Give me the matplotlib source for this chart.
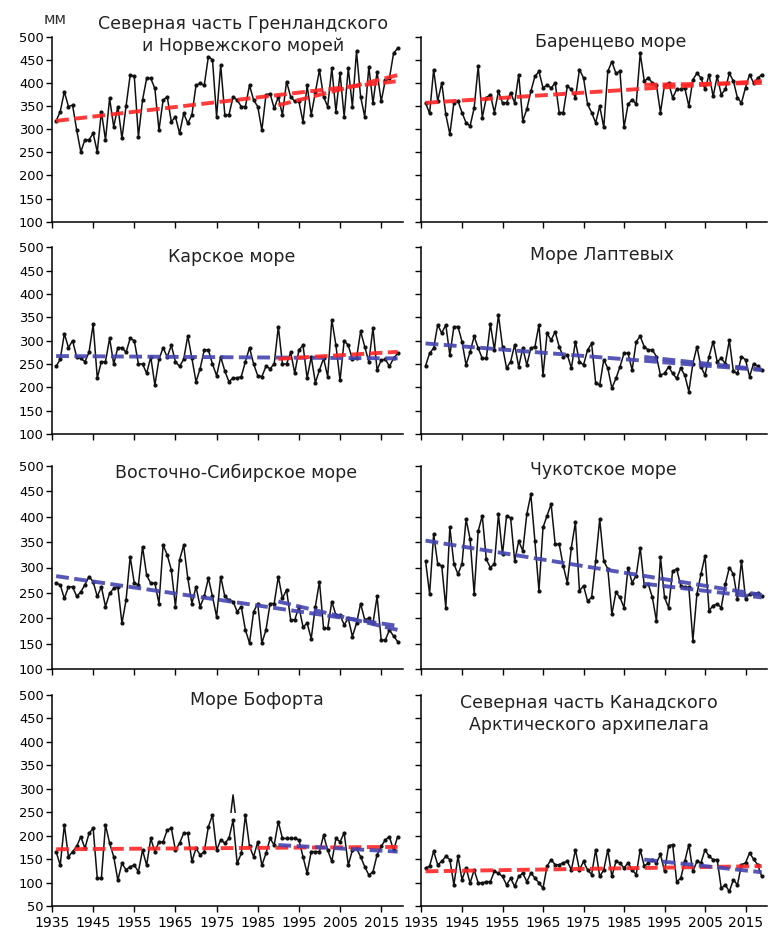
import numpy as np
import matplotlib.pyplot as plt

W, H = 776, 933

YEARS = np.arange(1936, 2020)

GREENLAND = [318, 338, 381, 349, 352, 298, 251, 277, 277, 291,
             251, 338, 277, 367, 305, 349, 280, 350, 417, 414,
             284, 363, 410, 410, 388, 298, 363, 370, 316, 327,
             291, 334, 313, 331, 395, 399, 395, 457, 450, 327,
             439, 331, 331, 370, 363, 349, 349, 395, 363, 349,
             298, 374, 377, 345, 370, 331, 403, 370, 360, 360,
             316, 395, 331, 380, 428, 370, 349, 432, 338, 421,
             327, 432, 349, 468, 370, 327, 435, 356, 424, 360,
             406, 410, 464, 475]
BARENTS = [357, 334, 429, 361, 400, 332, 289, 357, 361, 336,
           314, 307, 346, 436, 325, 368, 375, 336, 382, 357,
           357, 379, 357, 418, 318, 343, 382, 414, 425, 389,
           396, 389, 400, 336, 336, 393, 386, 368, 429, 411,
           354, 336, 314, 350, 304, 425, 446, 421, 425, 304,
           354, 364, 354, 464, 404, 411, 400, 396, 336, 396,
           400, 368, 386, 386, 389, 350, 407, 421, 411, 386,
           418, 371, 414, 375, 386, 421, 404, 368, 357, 390,
           418, 400, 410, 418]
KARA = [245, 260, 315, 285, 300, 265, 262, 255, 275, 335,
        220, 255, 255, 305, 250, 285, 285, 275, 305, 300,
        250, 250, 230, 265, 205, 260, 285, 265, 290, 255,
        245, 260, 310, 262, 212, 240, 280, 280, 250, 225,
        265, 235, 212, 220, 220, 223, 255, 285, 250, 225,
        223, 245, 240, 250, 330, 250, 250, 275, 230, 280,
        290, 220, 265, 210, 237, 262, 223, 345, 290, 215,
        300, 290, 260, 262, 320, 287, 255, 327, 237, 258,
        260, 245, 262, 273]
LAPTEV = [246, 273, 284, 334, 316, 334, 269, 330, 330, 298,
          248, 276, 309, 284, 262, 262, 336, 280, 355, 287,
          241, 255, 291, 244, 284, 248, 284, 287, 334, 226,
          316, 301, 319, 287, 266, 270, 241, 298, 255, 248,
          280, 294, 209, 205, 259, 241, 198, 219, 244, 273,
          273, 237, 298, 309, 287, 280, 280, 266, 226, 230,
          244, 230, 219, 241, 226, 191, 251, 287, 244, 226,
          266, 298, 255, 262, 251, 301, 234, 230, 266, 259,
          223, 251, 245, 237]
EAST_SIBERIAN = [269, 266, 239, 262, 262, 243, 252, 266, 282, 272,
                 243, 262, 223, 249, 259, 262, 190, 236, 321, 269,
                 266, 341, 285, 269, 269, 229, 344, 325, 295, 223,
                 315, 344, 279, 229, 262, 223, 243, 279, 243, 203,
                 282, 243, 236, 233, 213, 223, 177, 151, 213, 229,
                 151, 177, 229, 229, 282, 239, 256, 197, 197, 223,
                 183, 190, 160, 223, 272, 180, 180, 233, 206, 206,
                 187, 200, 164, 190, 229, 197, 200, 190, 243, 157,
                 157, 177, 165, 154]
CHUKCHI = [313, 248, 366, 307, 303, 221, 379, 307, 287, 307,
           395, 356, 248, 372, 402, 316, 300, 307, 405, 326,
           402, 398, 313, 352, 333, 405, 444, 352, 254, 379,
           402, 425, 346, 346, 303, 270, 339, 389, 254, 264,
           234, 241, 313, 395, 313, 297, 208, 251, 241, 221,
           300, 270, 284, 339, 264, 267, 241, 195, 320, 241,
           221, 293, 297, 264, 261, 261, 156, 248, 287, 323,
           215, 225, 228, 221, 267, 300, 287, 238, 313, 238,
           248, 248, 250, 244]
BEAUFORT = [166, 137, 223, 155, 166, 177, 198, 173, 205, 216,
            109, 109, 223, 184, 155, 105, 141, 127, 134, 137,
            123, 169, 137, 194, 166, 187, 187, 212, 216, 169,
            184, 205, 205, 145, 173, 159, 166, 219, 244, 169,
            191, 184, 194, 233, 141, 162, 244, 177, 155, 187,
            137, 162, 194, 180, 230, 194, 194, 194, 194, 191,
            155, 120, 166, 166, 166, 201, 169, 145, 194, 187,
            206, 137, 169, 173, 155, 134, 116, 123, 159, 177,
            191, 198, 169, 198]
CANADIAN = [131, 135, 167, 138, 145, 156, 149, 95, 156, 106,
            131, 99, 127, 99, 99, 102, 102, 124, 120, 113,
            95, 109, 92, 113, 120, 102, 120, 110, 99, 88,
            135, 149, 138, 138, 142, 145, 127, 170, 127, 145,
            127, 117, 170, 113, 127, 170, 113, 145, 142, 131,
            142, 127, 117, 170, 135, 142, 149, 142, 160, 124,
            178, 181, 102, 109, 145, 181, 124, 145, 142, 170,
            156, 149, 149, 88, 95, 81, 106, 95, 138, 142,
            163, 150, 138, 113]

# separate short fragment drawn above the Beaufort series
BEAUFORT_EXTRA_YEARS = [1978.5, 1979.0, 1979.5]
BEAUFORT_EXTRA = [250, 287, 250]

# linear trends: value at start and end of each period
FULL_PERIOD = (1936, 2019)
RECENT_PERIOD = (1990, 2019)
TREND_FULL = [(318, 404), (357, 404), (267, 262), (294, 237),
              (283, 185), (353, 246), (171, 176), (124, 135)]
TREND_RECENT = [(352, 417), (396, 400), (261, 276), (265, 238),
                (233, 177), (268, 241), (180, 166), (149, 122)]

TITLES = ["Северная часть Гренландского\nи Норвежского морей",
          "Баренцево море", "Карское море", "Море Лаптевых",
          "Восточно-Сибирское море", "Чукотское море", "Море Бофорта",
          "Северная часть Канадского\nАрктического архипелага"]
SERIES = [GREENLAND, BARENTS, KARA, LAPTEV, EAST_SIBERIAN, CHUKCHI,
          BEAUFORT, CANADIAN]

RED = "#ff2424"
BLUE = "#4545b0"

plt.rcParams["font.family"] = "DejaVu Sans"

fig = plt.figure(figsize=(W / 100, H / 100), dpi=100)

cols = [(52, 403), (421.5, 767)]
rows = [(36.7, 221.7), (247.3, 434), (466, 669), (695, 906)]
# title centres in pixels (two-line titles centred between their lines)
title_pos = [(243, 35), (611, 42), (232, 257), (602, 255),
             (236, 473), (603, 470), (257, 700), (589, 714)]


def px_axes(x0, x1, top, bottom):
    return fig.add_axes([x0 / W, 1 - bottom / H, (x1 - x0) / W, (bottom - top) / H])


for i, vals in enumerate(SERIES):
    r, c = divmod(i, 2)
    ax = px_axes(cols[c][0], cols[c][1], rows[r][0], rows[r][1])
    ax.plot(YEARS, vals, color="#111111", lw=1.1, marker="o", ms=2.0, zorder=3)
    if i == 6:
        ax.plot(BEAUFORT_EXTRA_YEARS, BEAUFORT_EXTRA, color="#111111", lw=1.1, zorder=3)

    for period, (v0, v1), z in [(FULL_PERIOD, TREND_FULL[i], 4),
                                (RECENT_PERIOD, TREND_RECENT[i], 5)]:
        color = RED if v1 >= v0 else BLUE
        ax.plot(period, (v0, v1), color=color, lw=2.8, ls=(0, (3.3, 1.4)),
                dash_capstyle="butt", zorder=z, alpha=0.9)

    ymin = 50 if r == 3 else 100
    ax.set_ylim(ymin, 500)
    ax.set_yticks(np.arange(ymin, 501, 50))
    ax.set_xlim(1935, 2020.3)
    ax.set_xticks(np.arange(1935, 2020, 10))
    for s in ["top", "right"]:
        ax.spines[s].set_visible(False)
    for s in ["left", "bottom"]:
        ax.spines[s].set_linewidth(1.1)
    ax.tick_params(axis="both", direction="out", length=4, width=1.0,
                   labelsize=9.4, colors="black")
    ax.tick_params(axis="y", pad=2)
    if c == 1:
        ax.set_yticklabels([])
    if r < 3:
        ax.set_xticklabels([])
    else:
        ax.tick_params(axis="x", labelsize=10, pad=3)
    ax.patch.set_alpha(0)

    tx, ty = title_pos[i]
    fig.text(tx / W, 1 - ty / H, TITLES[i], ha="center", va="center",
             fontsize=12.5, color="#222222", linespacing=1.3)

fig.text(55 / W, 1 - 19 / H, "мм", ha="center", va="center", fontsize=11, color="#333333")

fig.savefig("out.png", dpi=100)
